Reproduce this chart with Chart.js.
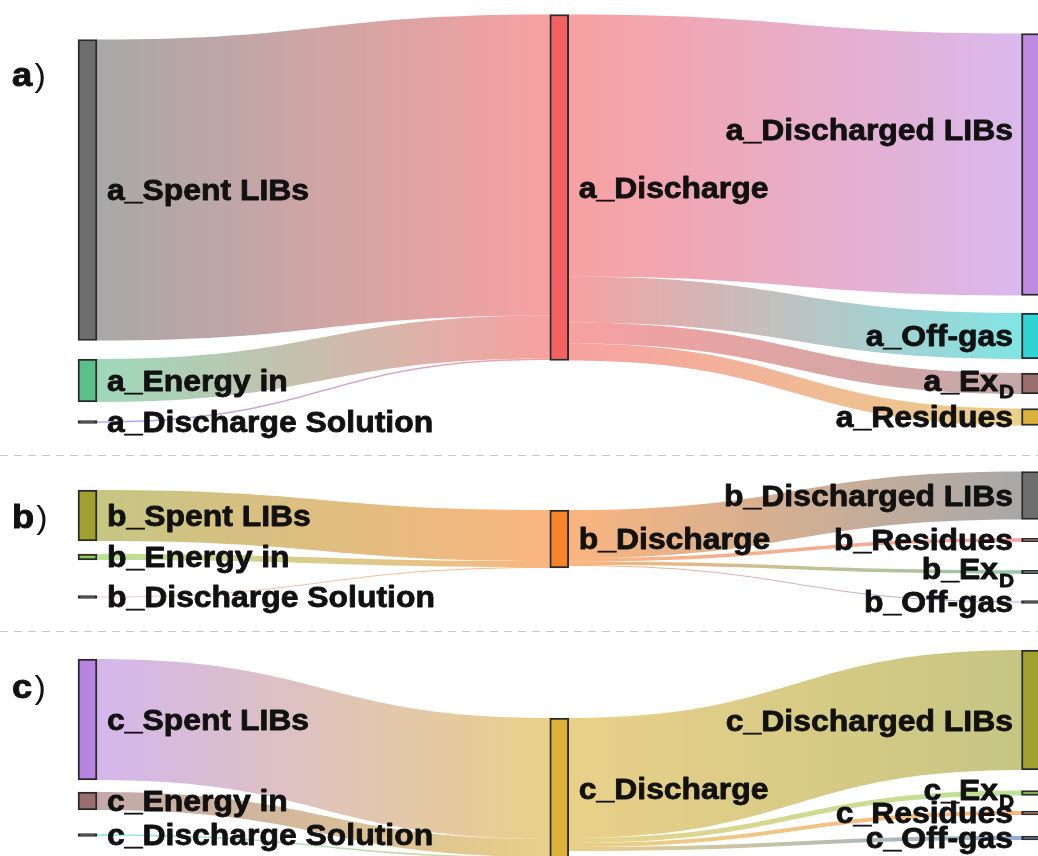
<!DOCTYPE html>
<html>
<head>
<meta charset="utf-8">
<title>Discharge sankey</title>
<script src="https://cdn.jsdelivr.net/npm/chart.js@4.4.1/dist/chart.umd.min.js"></script>
<style>
  html, body { margin: 0; padding: 0; background: #fff; }
  #wrap { width: 1038px; height: 856px; position: relative; }
</style>
</head>
<body>
<div id="wrap"><canvas id="sankey"></canvas></div>
<script>
// node names (each panel gets its own prefix)
const panelIds = ['a', 'b', 'c'];
const inputNames = ['Spent LIBs', 'Energy in', 'Discharge Solution'];
const middleName = 'Discharge';
const outputNames = ['Discharged LIBs', 'Off-gas', 'Ex_D', 'Residues'];

// flow sizes, inputs go into Discharge, outputs leave it
const inputsA = [301, 43, 1.5];
const outputsA = [262, 46, 21, 17];
const inputsB = [51, 6, 0.8];
const outputsB = [48, 1, 3.5, 3.5];
const inputsC = [121, 18, 1.5];
const outputsC = [120, 4, 5, 4];

// layout: centre of every node on the (reversed) y axis
const centresA = { inputs: [190, 380.5, 422], middle: 187.5, outputs: [164.5, 336, 383.5, 417] };
const centresB = { inputs: [515.5, 557, 597], middle: 539, outputs: [495.5, 602, 572, 540] };
const centresC = { inputs: [719.5, 801, 835], middle: 788.25, outputs: [710, 838, 793, 813] };
// a few labels do not sit on their node's centre
const labelShift = { 'a_Discharged LIBs': 130, 'c_Discharged LIBs': 721 };

// node colours
const coloursA = { inputs: ['#6e6e6e', '#5cbf8a', '#6f6ff0'], middle: '#f26262', outputs: ['#c08ae0', '#2ed3d3', '#9b6e6e', '#dbb13a'] };
const coloursB = { inputs: ['#9fa030', '#8ccf52', '#d8a8b8'], middle: '#f5842a', outputs: ['#6e6e6e', '#6a78f0', '#4fa36f', '#e86565'] };
const coloursC = { inputs: ['#b785e0', '#9b6e6e', '#2ed3d3'], middle: '#dbb13a', outputs: ['#9fa030', '#4a78b0', '#8ccf52', '#f5842a'] };

const panelLetterY = [86, 528, 698];
const separatorY = [455.5, 631.5];

const NODE_W = 19;
const MIN_NODE_H = 3;
const LINK_ALPHA = 0.6;
const FONT = "'Liberation Sans', Arial, Helvetica, sans-serif";
const STRETCH = 1.1;

const panels = [
  { id: 'a', inputs: inputsA, outputs: outputsA, centres: centresA, colours: coloursA },
  { id: 'b', inputs: inputsB, outputs: outputsB, centres: centresB, colours: coloursB },
  { id: 'c', inputs: inputsC, outputs: outputsC, centres: centresC, colours: coloursC },
];

const nodes = [];
const links = [];

panels.forEach(p => {
  const mid = { name: p.id + '_' + middleName, col: 1, y: p.centres.middle, colour: p.colours.middle, ins: [], outs: [] };
  inputNames.forEach((n, i) => {
    const node = { name: p.id + '_' + n, col: 0, y: p.centres.inputs[i], colour: p.colours.inputs[i], ins: [], outs: [] };
    nodes.push(node);
    const l = { source: node, target: mid, value: p.inputs[i] };
    node.outs.push(l); mid.ins.push(l); links.push(l);
  });
  nodes.push(mid);
  outputNames.forEach((n, i) => {
    const node = { name: p.id + '_' + n, col: 2, y: p.centres.outputs[i], colour: p.colours.outputs[i], ins: [], outs: [] };
    nodes.push(node);
    const l = { source: mid, target: node, value: p.outputs[i] };
    mid.outs.push(l); node.ins.push(l); links.push(l);
  });
});

const sum = arr => arr.reduce((s, l) => s + l.value, 0);
nodes.forEach(n => {
  n.h = Math.max(sum(n.ins), sum(n.outs));
  n.top = n.y - n.h / 2;
  let off = n.top;
  n.outs.sort((a, b) => a.target.y - b.target.y).forEach(l => { l.sy = off; off += l.value; });
  off = n.top;
  n.ins.sort((a, b) => a.source.y - b.source.y).forEach(l => { l.ty = off; off += l.value; });
});

const rgba = (hex, a) => {
  const v = parseInt(hex.slice(1), 16);
  return `rgba(${v >> 16},${(v >> 8) & 255},${v & 255},${a})`;
};

const datasets = nodes.map(n => {
  const tiny = n.h < MIN_NODE_H;
  const h = Math.max(n.h, MIN_NODE_H);
  return {
    label: n.name,
    data: [{ x: n.col, y: [n.y - h / 2, n.y + h / 2] }],
    backgroundColor: tiny ? '#2b2b2b' : n.colour,
    borderColor: '#2b2b2b',
    borderWidth: 2,
    borderSkipped: false,
    barThickness: NODE_W,
    grouped: false,
  };
});

// heavy text: fill plus a thin stroke of the same colour
const heavyText = (ctx, s, x, y) => {
  ctx.fillText(s, x, y);
  ctx.strokeText(s, x, y);
};

const drawLabel = (ctx, text, x, y, align) => {
  let main = text, sub = '';
  if (text.endsWith('_D')) { main = text.slice(0, -2); sub = 'D'; y -= 3; }
  ctx.save();
  ctx.translate(x, y);
  ctx.scale(STRETCH, 1);
  ctx.fillStyle = '#111';
  ctx.strokeStyle = '#111';
  ctx.lineWidth = 0.8;
  ctx.lineJoin = 'round';
  ctx.textBaseline = 'alphabetic';
  ctx.font = 'bold 29px ' + FONT;
  const w1 = ctx.measureText(main).width;
  ctx.font = 'bold 19px ' + FONT;
  const w2 = sub ? ctx.measureText(sub).width : 0;
  const start = align === 'right' ? -(w1 + w2) : 0;
  ctx.textAlign = 'left';
  ctx.font = 'bold 29px ' + FONT;
  heavyText(ctx, main, start, 10.4);
  if (sub) {
    ctx.font = 'bold 19px ' + FONT;
    heavyText(ctx, sub, start + w1 + 1, 17.5);
  }
  ctx.restore();
};

const sankeyPlugin = {
  id: 'sankeyLinks',
  beforeDatasetsDraw(chart) {
    const ctx = chart.ctx;
    const xs = chart.scales.x, ys = chart.scales.y;
    ctx.save();
    // panel separators
    ctx.strokeStyle = '#c8c8c8';
    ctx.lineWidth = 1.2;
    ctx.setLineDash([8, 6]);
    separatorY.forEach(v => {
      const y = ys.getPixelForValue(v);
      ctx.beginPath();
      ctx.moveTo(0, y);
      ctx.lineTo(chart.width, y);
      ctx.stroke();
    });
    ctx.setLineDash([]);
    // flows
    links.forEach(l => {
      const x0 = xs.getPixelForValue(l.source.col) + NODE_W / 2;
      const x1 = xs.getPixelForValue(l.target.col) - NODE_W / 2;
      const y0a = ys.getPixelForValue(l.sy), y0b = ys.getPixelForValue(l.sy + l.value);
      const y1a = ys.getPixelForValue(l.ty), y1b = ys.getPixelForValue(l.ty + l.value);
      const xm = (x0 + x1) / 2;
      ctx.beginPath();
      ctx.moveTo(x0, y0a);
      ctx.bezierCurveTo(xm, y0a, xm, y1a, x1, y1a);
      ctx.lineTo(x1, y1b);
      ctx.bezierCurveTo(xm, y1b, xm, y0b, x0, y0b);
      ctx.closePath();
      const g = ctx.createLinearGradient(x0, 0, x1, 0);
      g.addColorStop(0, rgba(l.source.colour, LINK_ALPHA));
      g.addColorStop(1, rgba(l.target.colour, LINK_ALPHA));
      ctx.fillStyle = g;
      ctx.fill();
    });
    ctx.restore();
  },
  afterDatasetsDraw(chart) {
    const ctx = chart.ctx;
    const xs = chart.scales.x, ys = chart.scales.y;
    nodes.forEach(n => {
      const cx = xs.getPixelForValue(n.col);
      const cy = ys.getPixelForValue(labelShift[n.name] ?? n.y);
      if (n.col === 2) drawLabel(ctx, n.name, cx - NODE_W / 2 - 8.5, cy, 'right');
      else drawLabel(ctx, n.name, cx + NODE_W / 2 + 10, cy, 'left');
    });
    // panel letters
    ctx.save();
    ctx.fillStyle = '#111';
    ctx.strokeStyle = '#111';
    ctx.lineWidth = 0.9;
    ctx.textBaseline = 'alphabetic';
    panelIds.forEach((id, i) => {
      const y = ys.getPixelForValue(panelLetterY[i]);
      ctx.save();
      ctx.translate(12, y);
      ctx.scale(STRETCH, 1);
      ctx.font = 'bold 33px ' + FONT;
      heavyText(ctx, id, 0, 0);
      const w = ctx.measureText(id).width;
      ctx.font = '31px ' + FONT;
      ctx.fillText(')', w + 2, 0);
      ctx.restore();
    });
    ctx.restore();
  }
};

const colGap = 471.75;
const firstCol = 87.5;

new Chart(document.getElementById('sankey'), {
  type: 'bar',
  data: { datasets },
  options: {
    responsive: true,
    maintainAspectRatio: false,
    animation: false,
    events: [],
    layout: { padding: 0 },
    scales: {
      x: { type: 'linear', offset: false, min: -firstCol / colGap, max: (1038 - firstCol) / colGap, display: false },
      y: { type: 'linear', min: 0, max: 856, reverse: true, display: false },
    },
    plugins: {
      legend: { display: false },
      tooltip: { enabled: false },
    },
  },
  plugins: [sankeyPlugin],
});
</script>
</body>
</html>
